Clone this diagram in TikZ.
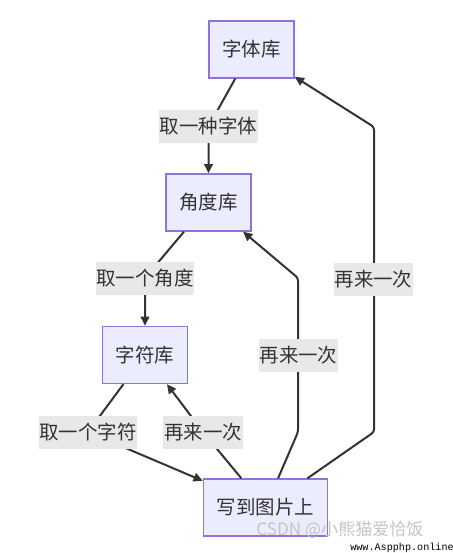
\documentclass[tikz,border=0pt]{standalone}
\usepackage{fontspec}
\setmainfont{Noto Sans CJK SC}
\newfontfamily\cjk{Noto Sans CJK SC}
\newfontfamily\wmono{Liberation Mono}
\usetikzlibrary{arrows.meta}
\definecolor{boxfill}{HTML}{ECECFF}
\definecolor{boxborder}{HTML}{9370DB}
\definecolor{linec}{HTML}{333333}
\definecolor{textc}{HTML}{333333}
\definecolor{lblfill}{HTML}{E8E8E8}
\definecolor{wmc}{HTML}{C4C4C4}
\tikzset{
  box/.style={draw=boxborder, fill=boxfill, line width=1pt, minimum height=42.75pt,
    inner xsep=10pt, inner ysep=0pt, text=textc, font=\cjk\fontsize{14.6}{17}\selectfont},
  lbl/.style={fill=lblfill, inner xsep=0.6pt, inner ysep=0pt, minimum height=24.75pt,
    text=textc, font=\cjk\fontsize{14.6}{17}\selectfont},
  edge/.style={draw=linec, line width=1.5pt, rounded corners=2pt,
    -{Triangle[length=7pt,width=6.5pt]}}
}
\begin{document}
\begin{tikzpicture}[x=0.75pt,y=-0.75pt]
\useasboundingbox (0,0) rectangle (453,553);
% nodes
\node[box] (A) at (251.5,49.5) {字体库};
\node[box] (B) at (208.5,202.5) {角度库};
\node[box] (C) at (145,355) {字符库};
\node[box] (D) at (265.5,507.5) {写到图片上};
% bend points
\coordinate (p1) at (298,432);
\coordinate (p2) at (298,278);
\coordinate (q1) at (374,432);
\coordinate (q2) at (374,127);
% label positions
\coordinate (l1) at (208.5,126.5);
\coordinate (l2) at (145,278);
\coordinate (l3) at (88,432);
\coordinate (l4) at (203,432);
% edges
\draw[edge] (A) -- (l1) -- (B);
\draw[edge] (B) -- (l2) -- (C);
\draw[edge] (C) -- (l3) -- (D);
\draw[edge] (D) -- (l4) -- (C);
\draw[edge] (D) -- (p1) -- (p2) -- (B);
\draw[edge] (D) -- (q1) -- (q2) -- (A);
% labels
\node[lbl] (L1) at (l1) {取一种字体};
\node[lbl] (L2) at (l2) {取一个角度};
\node[lbl] (L3) at (l3) {取一个字符};
\node[lbl] (L4) at (l4) {再来一次};
\node[lbl] (L5) at (298.5,355.5) {再来一次};
\node[lbl] (L6) at (373.5,279.5) {再来一次};
% watermark
\node[text=wmc, font=\cjk\fontsize{12.8}{14}\selectfont, inner sep=0pt] (W1) at (340,529.5) {CSDN @小熊猫爱恰饭};
\node[text=black, font=\wmono\fontsize{7.6}{9}\selectfont, inner sep=0pt] (W2) at (402,548) {www.Aspphp.online};
\end{tikzpicture}
\end{document}
